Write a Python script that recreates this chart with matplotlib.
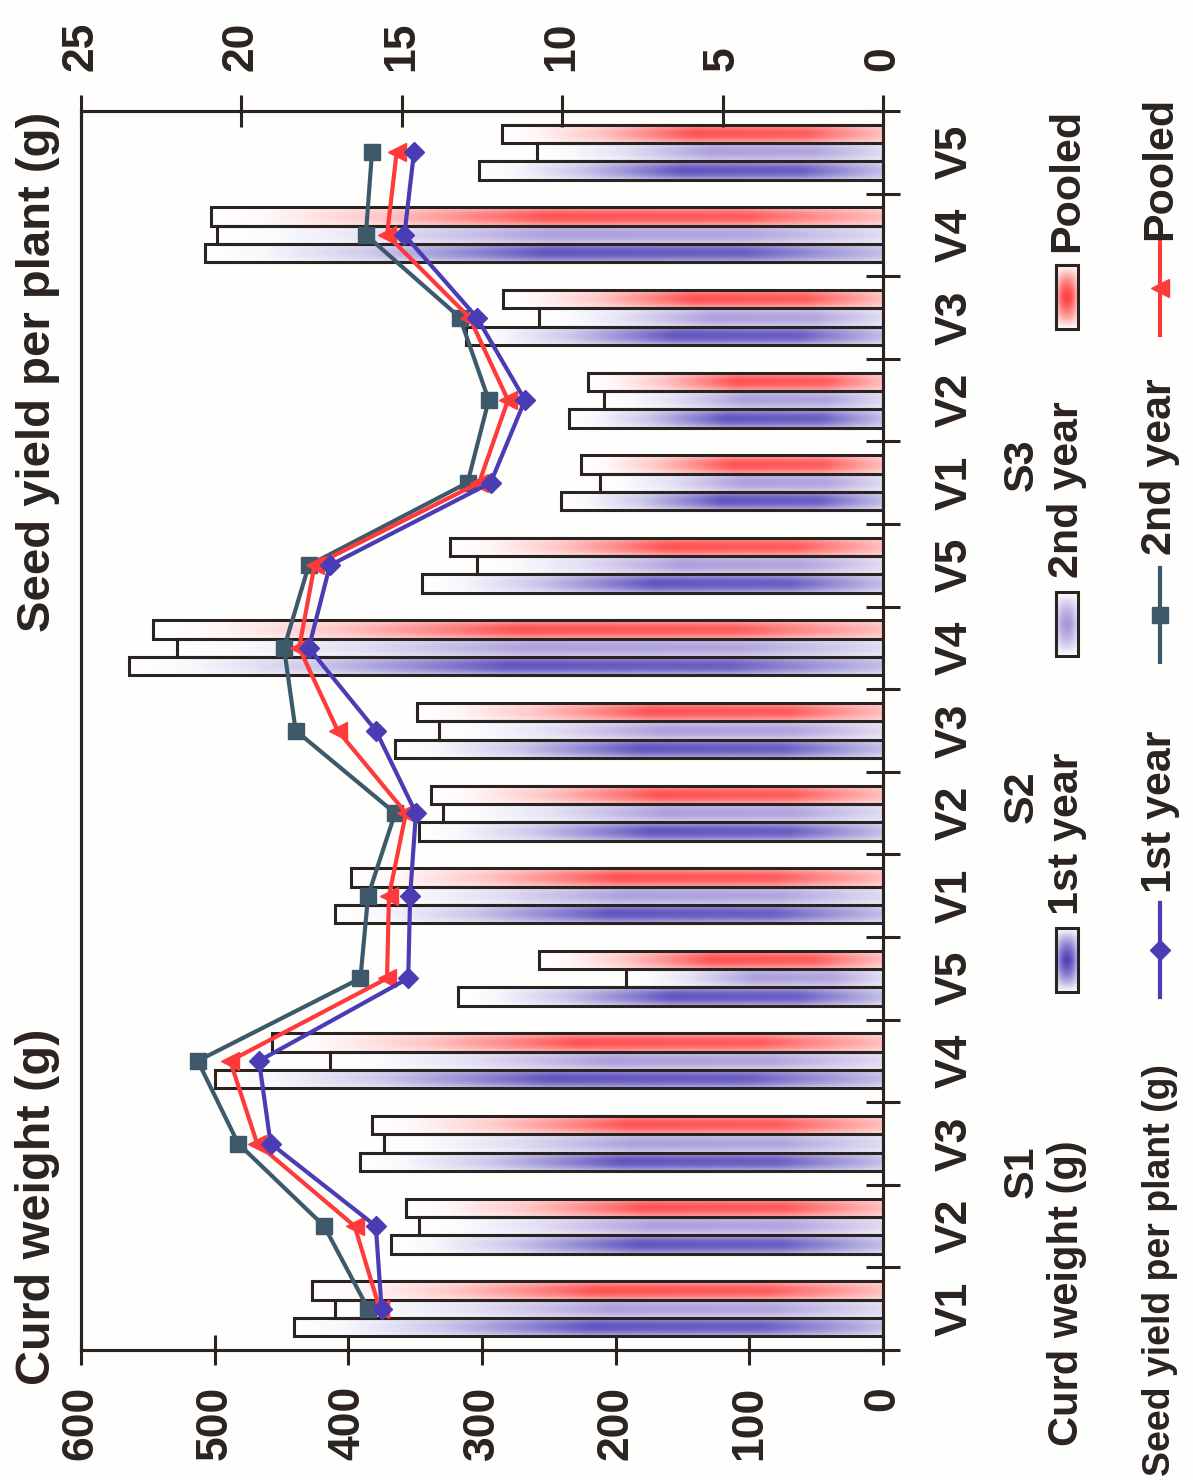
import numpy as np
import matplotlib
matplotlib.use("Agg")
import matplotlib.pyplot as plt
from matplotlib.colors import to_rgb
from matplotlib.patches import Rectangle
from matplotlib.transforms import blended_transform_factory

plt.rcParams["font.family"] = ["Liberation Sans", "DejaVu Sans"]
plt.rcParams["font.weight"] = "bold"

# Data (S1V1 ... S3V5)
sowings = ["S1", "S2", "S3"]
varieties = ["V1", "V2", "V3", "V4", "V5"]
cat_labels = varieties * 3

curd_1st = [441, 368, 391, 500, 318, 410, 347, 365, 564, 345, 241, 235, 312, 507, 302]
curd_2nd = [410, 347, 373, 414, 192, 390, 329, 332, 528, 304, 212, 209, 257, 498, 259]
curd_pooled = [427, 357, 382, 457, 257, 398, 338, 349, 546, 324, 226, 221, 284, 503, 285]

seed_1st = [15.63, 15.81, 19.09, 19.45, 14.80, 14.74, 14.56, 15.81, 17.90, 17.24,
            12.23, 11.16, 12.66, 14.92, 14.62]
seed_2nd = [16.05, 17.42, 20.10, 21.36, 16.29, 16.05, 15.21, 18.31, 18.67, 17.90,
            12.95, 12.29, 13.19, 16.12, 15.93]
seed_pooled = [15.69, 16.47, 19.51, 20.35, 15.46, 15.40, 14.87, 17.00, 18.20, 17.72,
               12.59, 11.69, 12.89, 15.46, 15.16]

INK = "#2b2222"
C1 = "#5142b8"
C2 = "#a496d8"
CP = "#ff4040"
L1 = "#4a3cb5"
L2 = "#3e5a6a"
LP = "#ff3a3a"

W, H = 1193, 1480


def gradient_bar(ax, bar, color):
    """Fill a bar with a fading gradient (strong near base, white at tip)."""
    x0, w = bar.get_x(), bar.get_width()
    y0, hh = bar.get_y(), bar.get_height()
    t = np.linspace(0, 1, 120)
    along = np.interp(t, [0, 0.2, 0.5, 0.75, 0.92, 1], [0.35, 0.85, 0.9, 0.3, 0.04, 0])
    u = np.linspace(-1, 1, 21)
    across = 1 - 0.55 * u ** 2
    k = across[:, None] * along[None, :]
    c = np.array(to_rgb(color))
    img = 1 - k[..., None] * (1 - c)
    ax.imshow(img, extent=(x0, x0 + w, y0, y0 + hh), origin="lower",
              aspect="auto", interpolation="bilinear", zorder=2)


def gradient_patch(ax, x0, y0, w, h, color):
    """Legend swatch: colour at centre, white at edges."""
    a = np.linspace(-1, 1, 40)
    b = np.linspace(-1, 1, 12)
    k = (1 - np.abs(a) ** 1.5)[:, None] * (1 - 0.6 * b ** 2)[None, :]
    c = np.array(to_rgb(color))
    img = 1 - k[..., None] * (1 - c)
    ax.imshow(img, extent=(x0, x0 + w, y0 + h, y0), aspect="auto",
              interpolation="bilinear", zorder=2)
    ax.add_patch(Rectangle((x0, y0), w, h, fill=False, edgecolor=INK, lw=2.2, zorder=3))


fig = plt.figure(figsize=(W / 100, H / 100), dpi=100)
fig.patch.set_facecolor("#fefefd")

ax = fig.add_axes([81 / W, 1 - 1350 / H, (883 - 81) / W, (1350 - 111) / H])
ax.set_facecolor("none")

pos = np.arange(len(cat_labels))
bh = 0.222
for vals, off, col in [(curd_1st, -bh, C1), (curd_2nd, 0, C2), (curd_pooled, bh, CP)]:
    bars = ax.barh(pos + off, vals, height=bh, facecolor="none",
                   edgecolor=INK, linewidth=2.2, zorder=3)
    for b in bars:
        gradient_bar(ax, b, col)

ax.set_xlim(600, 0)
ax.set_ylim(-0.5, len(cat_labels) - 0.5)
ax.set_xticks(range(0, 601, 100))
ax.tick_params(axis="x", direction="inout", length=22, width=2.2, color=INK,
               labelsize=32, pad=15, labelrotation=90, labelcolor=INK)
ax.set_yticks(np.arange(-0.5, len(cat_labels), 1))
ax.set_yticklabels([])
ax.tick_params(axis="y", left=False, right=True, direction="inout",
               length=24, width=2.2, color=INK)

trans = blended_transform_factory(ax.transAxes, ax.transData)
for i, lab in enumerate(cat_labels):
    ax.text(1.0898, i, lab, rotation=90, ha="center", va="center",
            fontsize=32, color=INK, transform=trans)

# Seed yield lines (top axis)
ax2 = ax.twiny()
ax2.plot(seed_2nd, pos, color=L2, lw=3, marker="s", ms=12, zorder=4)
ax2.plot(seed_pooled, pos, color=LP, lw=3, marker="<", ms=13, zorder=5)
ax2.plot(seed_1st, pos, color=L1, lw=3, marker="D", ms=10, zorder=6)
ax2.set_xlim(25, 0)
ax2.set_xticks(range(0, 26, 5))
ax2.tick_params(axis="x", direction="inout", length=23, width=2.2, color=INK,
                labelsize=32, pad=17, labelrotation=90, labelcolor=INK)

for a in (ax, ax2):
    for s in a.spines.values():
        s.set_linewidth(2.2)
        s.set_color(INK)

# Overlay for titles and legend
axo = fig.add_axes([0, 0, 1, 1], zorder=10)
axo.set_xlim(0, W)
axo.set_ylim(H, 0)
axo.axis("off")
axo.patch.set_alpha(0)

kw = dict(rotation=90, ha="center", color=INK)
axo.text(38, 112, "Seed yield per plant (g)", va="top", fontsize=34, **kw)
axo.text(38, 1385, "Curd weight (g)", va="bottom", fontsize=35, **kw)

for s, y in zip(sowings, [1172, 797, 465]):
    axo.text(1022, y, s, va="center", fontsize=31, **kw)

# legend row: curd weight bars
axo.text(1067, 1140, "Curd weight (g)", va="top", fontsize=30, **kw)
for (lab, col, y0, ytxt) in [("1st year", C1, 928, 915),
                             ("2nd year", C2, 592, 578),
                             ("Pooled", CP, 265, 252)]:
    gradient_patch(axo, 1056, y0, 22, 64, col)
    axo.text(1067, ytxt, lab, va="bottom", fontsize=31, **kw)

# legend row: seed yield lines
axo.text(1160, 1476, "Seed yield per plant (g)", va="bottom", fontsize=27, **kw)
for (lab, col, mk, ms, yc, ytxt) in [("1st year", L1, "D", 10, 950, 893),
                                    ("2nd year", L2, "s", 12, 615, 555),
                                    ("Pooled", LP, "<", 13, 288, 240)]:
    axo.plot([1160, 1160], [yc - 47, yc + 47], color=col, lw=3)
    axo.plot([1160], [yc], color=col, marker=mk, ms=ms)
    axo.text(1160, ytxt, lab, va="bottom", fontsize=31, **kw)

fig.savefig("out.png", dpi=100, facecolor=fig.get_facecolor())
